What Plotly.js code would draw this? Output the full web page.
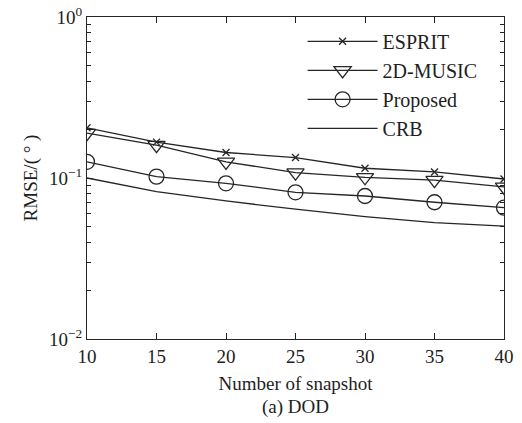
<!DOCTYPE html>
<html><head><meta charset="utf-8">
<script src="https://cdn.plot.ly/plotly-3.0.1.min.js"></script>
<style>html,body{margin:0;padding:0;background:#fff;}#chart{width:522px;height:423px;}</style>
</head><body><div id="chart"></div>
<script>
const snapshots = [10, 15, 20, 25, 30, 35, 40];
const esprit   = [0.205, 0.167, 0.144, 0.134, 0.115, 0.109, 0.0986];
const music2d  = [0.190, 0.160, 0.126, 0.108, 0.101, 0.097, 0.088];
const proposed = [0.126, 0.102, 0.0927, 0.0815, 0.0773, 0.0707, 0.0654];
const crb      = [0.100, 0.0822, 0.072, 0.064, 0.0575, 0.0528, 0.0503];
const xTicks = [10, 15, 20, 25, 30, 35, 40];
const yMajor = [0.01, 0.1, 1];
const yMajorText = ['10<sup>\u22122</sup>', '10<sup>\u22121</sup>', '10<sup>0</sup>'];
const yMinor = [0.02, 0.03, 0.04, 0.05, 0.06, 0.07, 0.08, 0.09, 0.2, 0.3, 0.4, 0.5, 0.6, 0.7, 0.8, 0.9];

const lineC = '#262626';
function tr(name, y, sym, size, grp){
  const t = {x: snapshots, y: y, name: name, type: 'scatter',
    mode: sym ? 'lines+markers' : 'lines', legendgroup: grp,
    line: {color: lineC, width: 1.3}};
  if (sym) t.marker = {symbol: sym, size: size, color: lineC, line: {color: lineC, width: 1.3}};
  return t;
}
const data = [
  tr('ESPRIT', esprit, 'x-thin-open', 7, 'a'),
  tr('2D-MUSIC', music2d, 'triangle-down-open', 15, 'b'),
  tr('Proposed', proposed, 'circle-open', 15, 'c'),
  tr('CRB', crb, null, 0, 'd')
];
const fam = '"Liberation Serif", "Times New Roman", serif';
const tc = '#1e1e1e';
const layout = {
  width: 522, height: 423,
  margin: {l: 87, r: 18, t: 17, b: 84},
  paper_bgcolor: '#fff', plot_bgcolor: 'rgba(0,0,0,0)',
  font: {family: fam, size: 18, color: tc},
  showlegend: true,
  legend: {x: 0.517, y: 0.985, xanchor: 'left', yanchor: 'top', bgcolor: 'rgba(255,255,255,0)',
    borderwidth: 0, font: {family: fam, size: 20, color: tc}, itemwidth: 70,
    tracegroupgap: 7, traceorder: 'normal'},
  xaxis: {range: [10, 40], tickmode: 'array', tickvals: xTicks, ticktext: xTicks.map(String),
    ticks: 'inside', ticklen: 6, tickcolor: '#222', tickwidth: 1.2,
    showline: true, mirror: 'allticks', linecolor: lineC, linewidth: 1, showgrid: false, zeroline: false,
    tickfont: {family: fam, size: 19, color: tc},
    title: {text: 'Number of snapshot', font: {family: fam, size: 19, color: tc}, standoff: 10}},
  yaxis: {type: 'log', range: [-2, 0], tickmode: 'array', tickvals: yMajor, ticktext: yMajorText,
    ticks: 'inside', ticklen: 6, tickcolor: '#222', tickwidth: 1.2,
    showline: true, mirror: 'allticks', linecolor: lineC, linewidth: 1, showgrid: false, zeroline: false,
    tickfont: {family: fam, size: 19, color: tc},
    minor: {tickmode: 'array', tickvals: yMinor, ticks: 'inside', ticklen: 4, tickcolor: '#222', tickwidth: 1.2, showgrid: false},
    title: {text: 'RMSE/( \u00b0 )', font: {family: fam, size: 19, color: tc}, standoff: 6}},
  annotations: [{text: '(a) DOD', xref: 'paper', yref: 'paper', x: 0.5, y: -0.172, yanchor: 'top',
    showarrow: false, font: {family: fam, size: 19, color: tc}}]
};
Plotly.newPlot('chart', data, layout, {displayModeBar: false});
</script></body></html>
